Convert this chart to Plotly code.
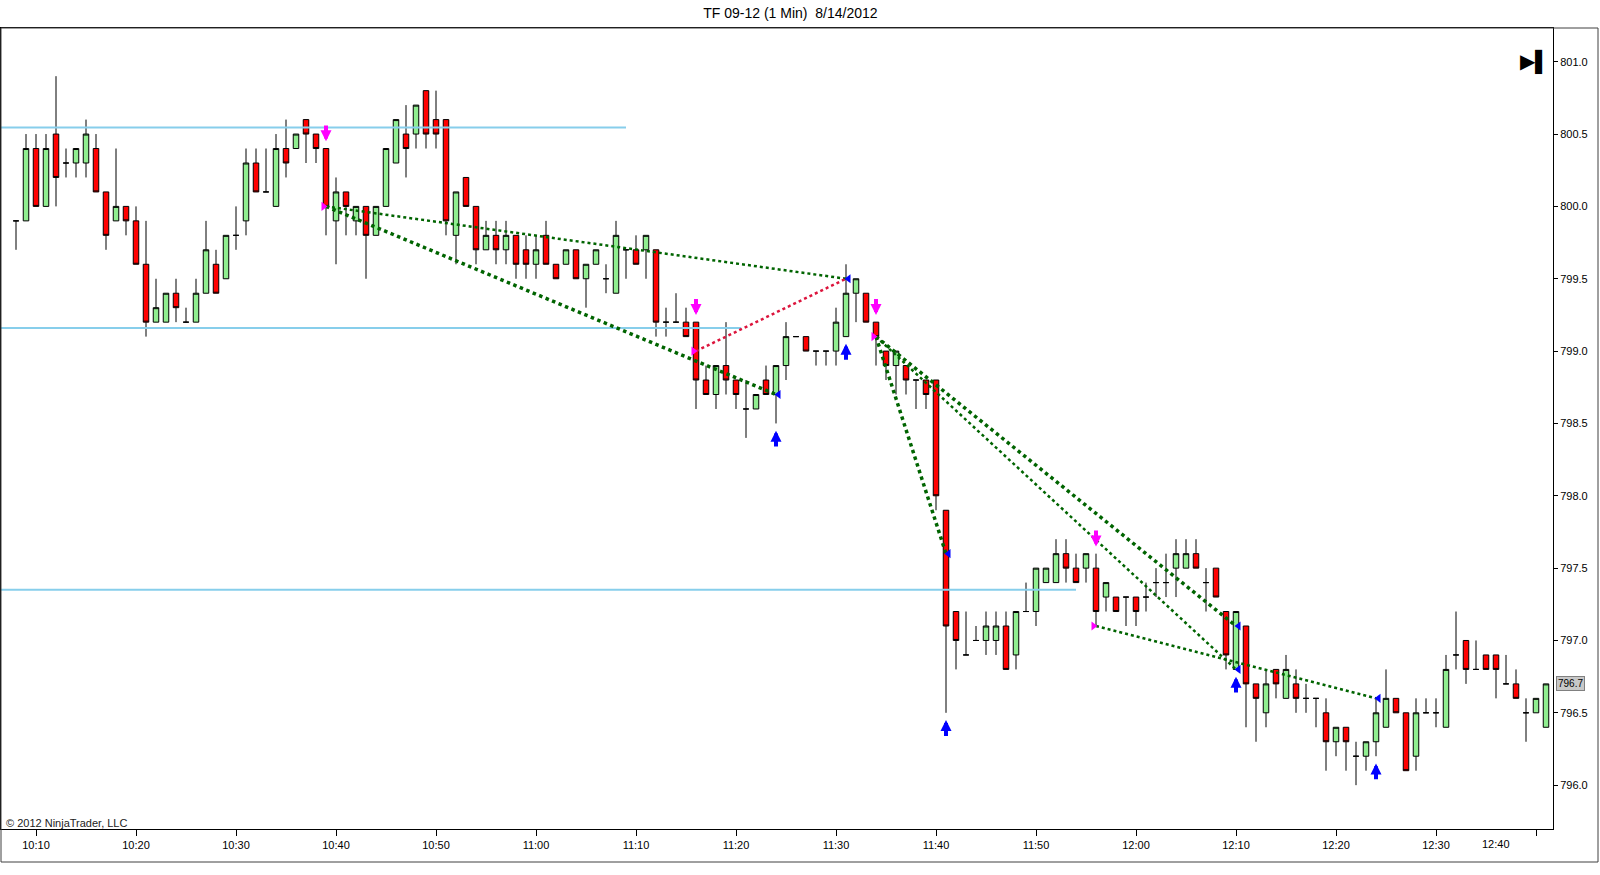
import pandas as pd
import plotly.graph_objects as go

# TF 09-12 one minute bars, 8/14/2012, first bar closes 10:08
session_start = "2012-08-14 10:08"

opens = [799.9, 799.9, 800.4, 800.0, 800.5, 800.3, 800.3, 800.3, 800.4, 800.1,
         799.9, 800.0, 799.9, 799.6, 799.2, 799.2, 799.4, 799.2, 799.2, 799.4,
         799.6, 799.5, 799.8, 799.9, 800.3, 800.1, 800.0, 800.4, 800.4, 800.6,
         800.5, 800.4, 799.9, 800.1, 799.9, 800.0, 799.8, 800.0, 800.3, 800.5,
         800.5, 800.8, 800.6, 800.6, 799.8, 800.2, 800.0, 799.7, 799.8, 799.7,
         799.8, 799.7, 799.6, 799.8, 799.6, 799.6, 799.7, 799.5, 799.6, 799.5,
         799.4, 799.7, 799.7, 799.7, 799.7, 799.2, 799.2, 799.2, 799.2, 798.8,
         798.7, 798.9, 798.8, 798.6, 798.6, 798.8, 798.7, 798.9, 799.1, 799.1,
         799.0, 799.0, 799.0, 799.1, 799.4, 799.4, 799.2, 799.0, 798.9, 798.9,
         798.8, 798.8, 798.8, 797.9, 797.2, 796.9, 797.0, 797.0, 797.0, 797.1,
         796.9, 797.2, 797.2, 797.4, 797.4, 797.6, 797.5, 797.5, 797.5, 797.3,
         797.3, 797.3, 797.3, 797.3, 797.4, 797.4, 797.5, 797.5, 797.6, 797.4,
         797.5, 797.2, 796.8, 797.1, 796.7, 796.5, 796.8, 796.6, 796.7, 796.6,
         796.6, 796.5, 796.3, 796.4, 796.2, 796.2, 796.3, 796.4, 796.6, 796.5,
         796.2, 796.5, 796.5, 796.4, 796.9, 797.0, 796.8, 796.9, 796.9, 796.7,
         796.7, 796.5, 796.5, 796.4]
highs = [799.9, 800.5, 800.5, 800.5, 800.9, 800.4, 800.4, 800.6, 800.5, 800.1,
         800.4, 800.0, 800.0, 799.9, 799.5, 799.4, 799.5, 799.3, 799.5, 799.9,
         799.7, 799.8, 800.0, 800.4, 800.4, 800.4, 800.5, 800.6, 800.5, 800.6,
         800.5, 800.4, 800.2, 800.1, 800.0, 800.0, 800.0, 800.4, 800.6, 800.7,
         800.7, 800.8, 800.8, 800.6, 800.1, 800.2, 800.0, 799.9, 799.9, 799.9,
         799.8, 799.8, 799.8, 799.9, 799.6, 799.7, 799.7, 799.6, 799.7, 799.6,
         799.9, 799.7, 799.8, 799.8, 799.7, 799.3, 799.4, 799.3, 799.2, 798.9,
         798.9, 799.2, 798.8, 798.8, 798.7, 798.9, 798.9, 799.2, 799.1, 799.1,
         799.0, 799.0, 799.3, 799.6, 799.5, 799.4, 799.2, 799.0, 799.0, 798.9,
         798.8, 798.8, 798.8, 797.9, 797.2, 797.2, 797.1, 797.2, 797.2, 797.2,
         797.2, 797.4, 797.5, 797.5, 797.7, 797.7, 797.6, 797.6, 797.6, 797.4,
         797.3, 797.3, 797.3, 797.4, 797.5, 797.6, 797.7, 797.7, 797.7, 797.5,
         797.5, 797.2, 797.2, 797.1, 796.7, 796.8, 796.8, 796.9, 796.8, 796.7,
         796.6, 796.6, 796.4, 796.4, 796.3, 796.3, 796.6, 796.8, 796.6, 796.5,
         796.6, 796.6, 796.6, 796.9, 797.2, 797.0, 797.0, 796.9, 796.9, 796.9,
         796.8, 796.6, 796.6, 796.7]
lows = [799.7, 799.9, 800.0, 800.0, 800.0, 800.2, 800.2, 800.2, 800.1, 799.7,
        799.9, 799.8, 799.6, 799.1, 799.2, 799.2, 799.2, 799.2, 799.2, 799.4,
        799.4, 799.5, 799.7, 799.8, 800.1, 800.1, 800.0, 800.2, 800.4, 800.3,
        800.3, 799.8, 799.6, 799.8, 799.8, 799.5, 799.8, 800.0, 800.3, 800.2,
        800.4, 800.4, 800.4, 799.8, 799.6, 800.0, 799.6, 799.7, 799.6, 799.6,
        799.5, 799.5, 799.5, 799.6, 799.5, 799.6, 799.5, 799.3, 799.6, 799.4,
        799.4, 799.5, 799.6, 799.5, 799.1, 799.1, 799.2, 799.1, 798.6, 798.7,
        798.6, 798.7, 798.6, 798.4, 798.6, 798.7, 798.5, 798.8, 799.1, 799.0,
        798.9, 798.9, 798.9, 799.1, 799.2, 799.2, 798.9, 798.8, 798.7, 798.7,
        798.6, 798.6, 797.9, 796.5, 796.8, 796.9, 797.0, 796.9, 796.9, 796.8,
        796.8, 797.2, 797.1, 797.4, 797.4, 797.4, 797.4, 797.4, 797.1, 797.2,
        797.2, 797.1, 797.1, 797.2, 797.3, 797.3, 797.3, 797.5, 797.5, 797.2,
        797.3, 796.8, 796.8, 796.4, 796.3, 796.4, 796.6, 796.6, 796.5, 796.5,
        796.4, 796.1, 796.2, 796.1, 796.0, 796.1, 796.2, 796.4, 796.5, 796.1,
        796.1, 796.5, 796.4, 796.4, 796.8, 796.7, 796.8, 796.8, 796.6, 796.7,
        796.6, 796.3, 796.5, 796.4]
closes = [799.9, 800.4, 800.0, 800.4, 800.2, 800.3, 800.4, 800.5, 800.1, 799.8,
          800.0, 799.9, 799.6, 799.2, 799.3, 799.4, 799.3, 799.2, 799.4, 799.7,
          799.4, 799.8, 799.8, 800.3, 800.1, 800.1, 800.4, 800.3, 800.5, 800.5,
          800.4, 800.0, 800.1, 800.0, 800.0, 799.8, 800.0, 800.4, 800.6, 800.4,
          800.7, 800.5, 800.5, 799.9, 800.1, 800.0, 799.7, 799.8, 799.7, 799.8,
          799.6, 799.6, 799.7, 799.6, 799.5, 799.7, 799.5, 799.6, 799.7, 799.5,
          799.8, 799.7, 799.6, 799.8, 799.2, 799.2, 799.2, 799.1, 798.8, 798.7,
          798.9, 798.8, 798.7, 798.6, 798.7, 798.7, 798.9, 799.1, 799.1, 799.0,
          799.0, 799.0, 799.2, 799.4, 799.5, 799.2, 799.1, 798.9, 799.0, 798.8,
          798.8, 798.7, 798.0, 797.1, 797.0, 796.9, 797.0, 797.1, 797.1, 796.8,
          797.2, 797.2, 797.5, 797.5, 797.6, 797.5, 797.4, 797.6, 797.2, 797.4,
          797.2, 797.3, 797.2, 797.3, 797.4, 797.4, 797.6, 797.6, 797.5, 797.4,
          797.3, 796.9, 797.2, 796.7, 796.6, 796.7, 796.7, 796.8, 796.6, 796.6,
          796.6, 796.3, 796.4, 796.3, 796.2, 796.3, 796.5, 796.6, 796.5, 796.1,
          796.5, 796.5, 796.5, 796.8, 796.9, 796.8, 796.8, 796.8, 796.8, 796.7,
          796.6, 796.5, 796.6, 796.7]

# signal bars (1-based bar numbers)
short_bars = [32, 69, 87, 109]
long_bars = [77, 84, 94, 123, 137]
short_mark_bars = [32, 69, 87, 109]
short_mark_prices = [800.0, 799.0, 799.1, 797.1]
long_mark_bars = [77, 84, 94, 123, 123, 137]
long_mark_prices = [798.7, 799.5, 797.6, 797.1, 796.8, 796.6]

# drawn trend lines
line_from_bars = [32, 32, 69, 87, 87, 87, 109]
line_from_prices = [800.0, 800.0, 799.0, 799.1, 799.1, 799.1, 797.1]
line_to_bars = [84, 77, 84, 94, 123, 123, 137]
line_to_prices = [799.5, 798.7, 799.5, 797.6, 797.1, 796.8, 796.6]
line_colors = ["#006400", "#006400", "#DC143C", "#006400", "#006400", "#006400", "#006400"]
line_widths = [2.5, 3.5, 2.5, 3.5, 3.5, 2.5, 2.5]

# horizontal levels
levels = [800.545, 799.16, 797.35]
level_ends = ["2012-08-14 11:09", "2012-08-14 11:20:30", "2012-08-14 11:54"]

times = pd.date_range(session_start, periods=len(closes), freq="1min")
step = pd.Timedelta(minutes=1)
x_range = [times[0] - 1.5 * step, times[0] + 153.7 * step]

# time labels every 10 minutes; NinjaTrader pulls the last one in from the edge
tick_times = list(times[2::10])
tick_labels = [ts.strftime("%H:%M") for ts in tick_times]


def t(bar):
    return times[bar - 1]


fig = go.Figure()
fig.add_trace(go.Candlestick(
    x=times, open=opens, high=highs, low=lows, close=closes,
    increasing=dict(fillcolor="#90EE90", line=dict(color="black", width=1)),
    decreasing=dict(fillcolor="#FF0000", line=dict(color="black", width=1)),
    whiskerwidth=0, hoverinfo="skip", showlegend=False,
))

for lvl, end in zip(levels, level_ends):
    fig.add_trace(go.Scatter(x=[x_range[0] - 5 * step, pd.Timestamp(end)], y=[lvl, lvl],
                             mode="lines", line=dict(color="#87CEEB", width=2),
                             hoverinfo="skip", showlegend=False))

for b0, p0, b1, p1, col, w in zip(line_from_bars, line_from_prices, line_to_bars,
                                  line_to_prices, line_colors, line_widths):
    fig.add_trace(go.Scatter(x=[t(b0), t(b1)], y=[p0, p1], mode="lines",
                             line=dict(color=col, width=w, dash="dot"),
                             hoverinfo="skip", showlegend=False))

fig.add_trace(go.Scatter(
    x=[t(b) - pd.Timedelta(seconds=15) for b in short_mark_bars], y=short_mark_prices,
    mode="markers", marker=dict(symbol="triangle-right", size=8, color="#FF00FF"),
    hoverinfo="skip", showlegend=False))
fig.add_trace(go.Scatter(
    x=[t(b) + pd.Timedelta(seconds=15) for b in long_mark_bars], y=long_mark_prices,
    mode="markers", marker=dict(symbol="triangle-left", size=8, color="#0000FF"),
    hoverinfo="skip", showlegend=False))

for b in short_bars:
    hi = highs[b - 1]
    fig.add_annotation(x=t(b), y=hi + 0.05, ax=t(b), ay=hi + 0.17, xref="x", yref="y",
                       axref="x", ayref="y", text="", showarrow=True, arrowhead=2,
                       arrowsize=0.55, arrowwidth=4, arrowcolor="#FF00FF", standoff=0)
for b in long_bars:
    lo = lows[b - 1]
    fig.add_annotation(x=t(b), y=lo - 0.05, ax=t(b), ay=lo - 0.17, xref="x", yref="y",
                       axref="x", ayref="y", text="", showarrow=True, arrowhead=2,
                       arrowsize=0.55, arrowwidth=4, arrowcolor="#0000FF", standoff=0)

# last time label, drawn shifted left like the original
fig.add_annotation(x=tick_times[-1], y=0, xref="x", yref="paper", yanchor="top",
                   xshift=-40, yshift=-7, text=tick_labels[-1], showarrow=False,
                   font=dict(size=11, color="black"))

# copyright, last price box, end-of-chart button
fig.add_annotation(x=0, y=0, xref="paper", yref="paper", xanchor="left", yanchor="bottom",
                   xshift=3, yshift=-2, text="© 2012 NinjaTrader, LLC", showarrow=False,
                   font=dict(size=11, color="#222222"))
fig.add_annotation(x=1, y=closes[-1], xref="paper", yref="y", xanchor="left", xshift=3,
                   text=f"{closes[-1]:.1f}", showarrow=False, bgcolor="#C8C8C8",
                   bordercolor="#808080", borderwidth=1, borderpad=1,
                   font=dict(size=10, color="black"))
fig.add_annotation(x=0.999, y=0.976, xref="paper", yref="paper", text="▶▌",
                   showarrow=False, font=dict(size=20, color="black"))

# outer frame around plot and axes
fig.add_shape(type="rect", xref="paper", yref="paper", x0=0, x1=1.029, y0=-0.0412, y1=1,
              line=dict(color="#404040", width=1))

fig.update_layout(
    width=1600, height=875,
    margin=dict(l=1, r=47, t=28, b=46),
    paper_bgcolor="white", plot_bgcolor="white",
    boxgap=0.45, boxgroupgap=0,
    showlegend=False,
    font=dict(family="Liberation Sans, Arial, sans-serif", size=11, color="black"),
    title=dict(text="TF 09-12 (1 Min)\u00a0 8/14/2012", x=0.494, xanchor="center",
               y=0.985, yanchor="middle", font=dict(size=14, color="black")),
)
fig.update_xaxes(type="date", range=x_range, tickvals=tick_times,
                 ticktext=tick_labels[:-1] + [""],
                 ticks="outside", ticklen=6, tickcolor="black",
                 showline=True, linecolor="black", mirror=True, showgrid=False,
                 zeroline=False, rangeslider_visible=False)
fig.update_yaxes(side="right", range=[795.697, 801.233], tick0=796, dtick=0.5,
                 tickformat=".1f", ticks="outside", ticklen=4, tickcolor="black",
                 showline=True, linecolor="black", mirror=True, showgrid=False,
                 zeroline=False)

# page has a default body margin; drop it so the chart sits at the window edge
fig.write_html("out.html", config={"displayModeBar": False},
               post_script="document.body.style.margin = '0px';")
